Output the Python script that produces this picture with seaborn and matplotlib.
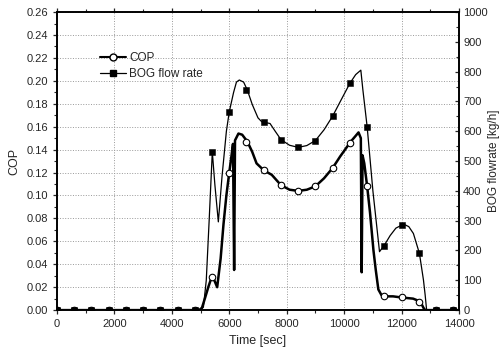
import numpy as np
import matplotlib
matplotlib.use("Agg")
import matplotlib.pyplot as plt
import seaborn as sns
from matplotlib.lines import Line2D
from matplotlib.ticker import MultipleLocator

sns.set_style("ticks")
plt.rcParams["font.family"] = ["Liberation Sans", "DejaVu Sans"]

# continuous curves
cop_t = [0, 4950, 5050, 5150, 5270, 5390, 5480, 5580, 5700, 5800, 5900, 6000, 6080, 6130,
         6170, 6200, 6320, 6450, 6630, 6800, 6950, 7200, 7480, 7800, 8100, 8400, 8700, 9000,
         9300, 9600, 9860, 10230, 10400, 10500, 10580, 10610, 10640, 10700, 10800, 10900,
         11020, 11100, 11190, 11300, 11400, 11700, 12000, 12400, 12600, 12700, 12760, 12820, 14000]
cop_v = [0, 0, 0.002, 0.010, 0.020, 0.029, 0.026, 0.020, 0.045, 0.075, 0.100, 0.120, 0.135, 0.145,
         0.035, 0.148, 0.154, 0.153, 0.147, 0.138, 0.128, 0.122, 0.118, 0.109, 0.105, 0.104, 0.105, 0.108,
         0.115, 0.124, 0.134, 0.147, 0.152, 0.155, 0.150, 0.033, 0.135, 0.128, 0.108, 0.085,
         0.052, 0.035, 0.018, 0.013, 0.012, 0.012, 0.011, 0.010, 0.008, 0.005, 0.002, 0, 0]

bog_t = [0, 5000, 5100, 5200, 5300, 5410, 5500, 5620, 5750, 5900, 6000, 6150, 6250, 6350,
         6500, 6630, 6800, 7000, 7130, 7420, 7600, 7800, 8100, 8400, 8700, 9000, 9300, 9600,
         9860, 10200, 10400, 10580, 10650, 10800, 11000, 11230, 11400, 11600, 11800, 12000,
         12100, 12250, 12410, 12620, 12760, 12820, 12870, 14000]
bog_v = [0, 0, 10, 100, 300, 531, 420, 296, 450, 600, 665, 730, 765, 772,
         765, 738, 690, 645, 632, 626, 600, 572, 553, 546, 552, 569, 605, 651,
         699, 761, 790, 805, 740, 615, 400, 196, 218, 250, 275, 285,
         287, 280, 257, 190, 101, 50, 0, 0]

# symbols every 600 s
mark_t = [0, 600, 1200, 1800, 2400, 3000, 3600, 4200, 4800, 5400, 6000, 6600, 7200, 7800,
          8400, 9000, 9600, 10200, 10800, 11400, 12000, 12600, 13200, 13800]
cop_mark = [0, 0, 0, 0, 0, 0, 0, 0, 0, 0.029, 0.120, 0.147, 0.122, 0.109,
            0.104, 0.108, 0.124, 0.146, 0.108, 0.012, 0.011, 0.007, 0, 0]
bog_mark = [0, 0, 0, 0, 0, 0, 0, 0, 0, 531, 665, 740, 632, 572,
            546, 569, 651, 761, 615, 216, 285, 190, 0, 0]

fig = plt.figure(figsize=(4.99, 3.54), dpi=100)
ax = fig.add_axes([0.114, 0.124, 0.806, 0.842])
ax2 = ax.twinx()

sns.lineplot(x=cop_t, y=cop_v, ax=ax, color="black", lw=1.8, sort=False)
sns.scatterplot(x=mark_t, y=cop_mark, ax=ax, marker="o", s=22, facecolor="white",
                edgecolor="black", linewidth=0.8, zorder=3)
sns.lineplot(x=bog_t, y=bog_v, ax=ax2, color="black", lw=0.9, sort=False)
sns.scatterplot(x=mark_t, y=bog_mark, ax=ax2, marker="s", s=22, color="black",
                edgecolor="black", zorder=3)

ax.set_xlim(0, 14000)
ax.set_ylim(0, 0.26)
ax2.set_ylim(0, 1000)
ax.xaxis.set_major_locator(MultipleLocator(2000))
ax.xaxis.set_minor_locator(MultipleLocator(1000))
ax.yaxis.set_major_locator(MultipleLocator(0.02))
ax.yaxis.set_minor_locator(MultipleLocator(0.01))
ax2.yaxis.set_major_locator(MultipleLocator(100))
ax2.yaxis.set_minor_locator(MultipleLocator(50))
ax.yaxis.set_major_formatter(plt.FuncFormatter(lambda v, p: f"{v:.2f}"))

ax.grid(True, which="major", color="#999999", ls=":", lw=0.7)
ax.tick_params(which="major", direction="out", length=3, labelsize=8, width=0.9)
ax.tick_params(which="minor", direction="out", length=2, width=0.8)
ax.tick_params(axis="x", top=True, which="both")
ax2.tick_params(which="major", direction="in", length=3, labelsize=8, width=0.9, pad=3)
ax2.tick_params(which="minor", direction="in", length=2, width=0.8)
for a in (ax, ax2):
    for s in a.spines.values():
        s.set_linewidth(1.2)
        s.set_color("black")
        s.set_visible(True)

ax.set_xlabel("Time [sec]", fontsize=9)
ax.set_ylabel("COP", fontsize=9)
ax2.set_ylabel("BOG flowrate [kg/h]", fontsize=8.5)
ax2.yaxis.set_label_coords(1.072, 0.5)

handles = [
    Line2D([], [], color="black", lw=1.5, marker="o", markersize=5,
           markerfacecolor="white", markeredgecolor="black"),
    Line2D([], [], color="black", lw=0.9, marker="s", markersize=5,
           markerfacecolor="black"),
]
ax.legend(handles, ["COP", "BOG flow rate"], loc="upper left",
          bbox_to_anchor=(0.08, 0.90), frameon=False, fontsize=8.5,
          handlelength=2.2, handletextpad=0.3, labelspacing=0.3)

fig.savefig("out.png", dpi=100)
